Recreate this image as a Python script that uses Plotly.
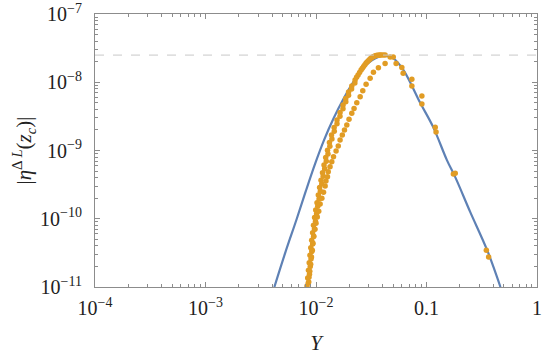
import plotly.graph_objects as go

# blue theory curve
curveY = [4.20e-3, 5.29e-3, 6.70e-3, 8.11e-3, 9.79e-3, 1.182e-2, 1.44e-2, 1.77e-2, 2.18e-2, 2.67e-2,
          3.23e-2, 4.06e-2, 5.00e-2, 6.19e-2, 8.79e-2, 0.115, 0.153, 0.182, 0.249, 0.354, 0.467]
curveEta = [1.00e-11, 3.24e-11, 1.00e-10, 2.58e-10, 6.32e-10, 1.42e-9, 2.94e-9, 5.67e-9, 1.01e-8, 1.62e-8,
            2.12e-8, 2.46e-8, 2.24e-8, 1.51e-8, 4.96e-9, 2.20e-9, 7.23e-10, 4.07e-10, 1.25e-10, 3.46e-11, 1.00e-11]

# orange points, dense branch (two interleaved rows)
denseY = [8.29e-3, 8.41e-3, 8.55e-3, 8.68e-3, 8.82e-3, 8.97e-3, 9.14e-3, 9.32e-3, 9.49e-3, 9.71e-3,
          9.94e-3, 1.021e-2, 1.049e-2, 1.078e-2, 1.110e-2, 1.145e-2, 1.182e-2, 1.224e-2, 1.271e-2,
          1.323e-2, 1.382e-2, 1.459e-2, 1.550e-2, 1.651e-2, 1.757e-2, 1.859e-2, 1.971e-2, 2.108e-2,
          2.258e-2, 2.403e-2, 2.559e-2, 2.696e-2, 2.841e-2, 2.992e-2, 3.152e-2, 3.321e-2, 3.499e-2,
          3.687e-2, 3.884e-2, 4.05e-2, 4.223e-2,
          8.60e-3, 8.73e-3, 8.87e-3, 9.01e-3, 9.16e-3, 9.32e-3, 9.51e-3, 9.68e-3, 9.89e-3, 1.012e-2,
          1.037e-2, 1.066e-2, 1.095e-2, 1.127e-2, 1.161e-2, 1.198e-2, 1.239e-2, 1.284e-2, 1.335e-2,
          1.393e-2, 1.463e-2, 1.549e-2, 1.648e-2, 1.754e-2, 1.861e-2, 1.971e-2, 2.099e-2, 2.247e-2,
          2.33e-2, 2.48e-2, 2.627e-2, 2.768e-2, 2.915e-2, 3.071e-2, 3.235e-2, 3.409e-2, 3.592e-2, 3.784e-2]
denseEta = [1.03e-11, 1.35e-11, 1.76e-11, 2.27e-11, 2.92e-11, 3.77e-11, 4.85e-11, 6.25e-11, 8.05e-11,
            1.04e-10, 1.34e-10, 1.72e-10, 2.22e-10, 2.86e-10, 3.68e-10, 4.74e-10, 6.11e-10, 7.87e-10,
            1.01e-9, 1.31e-9, 1.68e-9, 2.17e-9, 2.79e-9, 3.60e-9, 4.63e-9, 5.77e-9, 7.18e-9, 8.79e-9,
            1.08e-8, 1.28e-8, 1.51e-8, 1.70e-8, 1.91e-8, 2.08e-8, 2.26e-8, 2.38e-8, 2.46e-8,
            2.49e-8, 2.51e-8, 2.51e-8, 2.51e-8,
            1.18e-11, 1.54e-11, 2.00e-11, 2.57e-11, 3.32e-11, 4.28e-11, 5.51e-11, 7.09e-11, 9.15e-11, 1.18e-10,
            1.52e-10, 1.95e-10, 2.52e-10, 3.24e-10, 4.18e-10, 5.38e-10, 6.93e-10, 8.92e-10, 1.15e-9,
            1.48e-9, 1.91e-9, 2.46e-9, 3.17e-9, 4.08e-9, 5.17e-9, 6.44e-9, 7.94e-9, 9.74e-9,
            1.18e-8, 1.39e-8, 1.60e-8, 1.80e-8, 1.99e-8, 2.17e-8, 2.32e-8, 2.42e-8, 2.48e-8, 2.50e-8]

# orange points, sparse branch
sparseY = [4.69e-2, 4.22e-2, 3.67e-2, 3.31e-2, 3.09e-2, 2.84e-2, 2.65e-2, 2.51e-2, 2.34e-2, 2.21e-2,
           2.108e-2, 1.99e-2, 1.90e-2, 1.81e-2, 1.73e-2, 1.651e-2, 1.59e-2, 1.52e-2, 1.44e-2, 1.39e-2,
           1.34e-2, 1.29e-2, 1.27e-2, 1.23e-2, 1.21e-2, 1.17e-2, 1.13e-2, 1.09e-2, 1.058e-2, 1.027e-2,
           1.00e-2, 9.79e-3, 9.55e-3, 9.39e-3, 9.26e-3, 9.10e-3, 8.95e-3, 8.78e-3, 8.64e-3, 8.51e-3]
sparseEta = [2.34e-8, 1.89e-8, 1.63e-8, 1.40e-8, 1.14e-8, 9.32e-9, 7.51e-9, 6.13e-9, 5.00e-9, 4.14e-9,
             3.50e-9, 2.86e-9, 2.36e-9, 1.99e-9, 1.68e-9, 1.42e-9, 1.16e-9, 9.80e-10, 8.08e-10, 6.83e-10,
             5.77e-10, 4.87e-10, 4.12e-10, 3.56e-10, 3.01e-10, 2.45e-10, 2.00e-10, 1.64e-10, 1.29e-10, 1.06e-10,
             8.62e-11, 7.04e-11, 5.56e-11, 4.39e-11, 3.46e-11, 2.74e-11, 2.16e-11, 1.70e-11, 1.39e-11, 1.14e-11]

# orange points on the falling side
tailY = [5.00e-2, 5.31e-2, 5.98e-2, 6.15e-2, 7.37e-2, 7.37e-2, 9.08e-2, 9.08e-2, 0.120, 0.122,
         0.175, 0.182, 0.348, 0.365]
tailEta = [2.34e-8, 1.88e-8, 1.65e-8, 1.36e-8, 1.11e-8, 8.80e-9, 6.27e-9, 4.79e-9, 2.20e-9, 1.86e-9,
           4.51e-10, 4.66e-10, 3.46e-11, 2.76e-11]

peakLevel = 2.5e-8

xTicks = [1e-4, 1e-3, 1e-2, 0.1, 1]
xTickText = ['10<sup>−4</sup>', '10<sup>−3</sup>', '10<sup>−2</sup>', '0.1', '1']
yTicks = [1e-11, 1e-10, 1e-9, 1e-8, 1e-7]
yTickText = ['10<sup>−11</sup>', '10<sup>−10</sup>', '10<sup>−9</sup>', '10<sup>−8</sup>', '10<sup>−7</sup>']

blue = '#5E81B5'
orange = '#E19C24'
frame = '#8c8c8c'
serif = 'Liberation Serif'

fig = go.Figure()
fig.add_hline(y=peakLevel, line=dict(color='#c8c8c8', width=1, dash='dash'))
fig.add_trace(go.Scatter(x=curveY, y=curveEta, mode='lines', line=dict(color=blue, width=2.2, shape='spline')))
dotStyle = dict(color=orange, size=5.5)
fig.add_trace(go.Scatter(x=denseY, y=denseEta, mode='markers', marker=dotStyle))
fig.add_trace(go.Scatter(x=sparseY, y=sparseEta, mode='markers', marker=dotStyle))
fig.add_trace(go.Scatter(x=tailY, y=tailEta, mode='markers', marker=dotStyle))

xMinor = [m * 10.0 ** e for e in range(-4, 0) for m in range(2, 10)]
yMinor = [m * 10.0 ** e for e in range(-11, -7) for m in range(2, 10)]

axisCommon = dict(type='log', showgrid=False, zeroline=False, showline=True, linecolor=frame,
                  linewidth=1, mirror='allticks', ticks='inside', ticklen=5, tickcolor=frame,
                  ticklabeloverflow='allow', automargin=False,
                  tickfont=dict(family=serif, size=20, color='#222'))

fig.update_xaxes(range=[-4, 0], tickmode='array', tickvals=xTicks, ticktext=xTickText,
                 minor=dict(tickmode='array', tickvals=xMinor, ticks='inside', ticklen=3, tickcolor=frame),
                 title=dict(text='<i>Y</i>', font=dict(family=serif, size=21, color='#222'), standoff=17),
                 ticklabelstandoff=3, **axisCommon)
fig.update_yaxes(range=[-11, -7], tickmode='array', tickvals=yTicks, ticktext=yTickText,
                 minor=dict(tickmode='array', tickvals=yMinor, ticks='inside', ticklen=3, tickcolor=frame),
                 title=dict(text='|<i>η</i><sup>Δ <i>L</i></sup>(<i>z</i><sub><i>c</i></sub>)|',
                            font=dict(family=serif, size=21, color='#222'), standoff=2),
                 ticklabelstandoff=8, **axisCommon)

fig.update_layout(width=545, height=357, margin=dict(l=95, r=8, t=14, b=70),
                  plot_bgcolor='white', paper_bgcolor='white', showlegend=False)
# drop the page's default body margin so the figure sits at the window corner
fig.write_html('out.html', config={'displayModeBar': False},
               post_script="document.body.style.margin='0';")
